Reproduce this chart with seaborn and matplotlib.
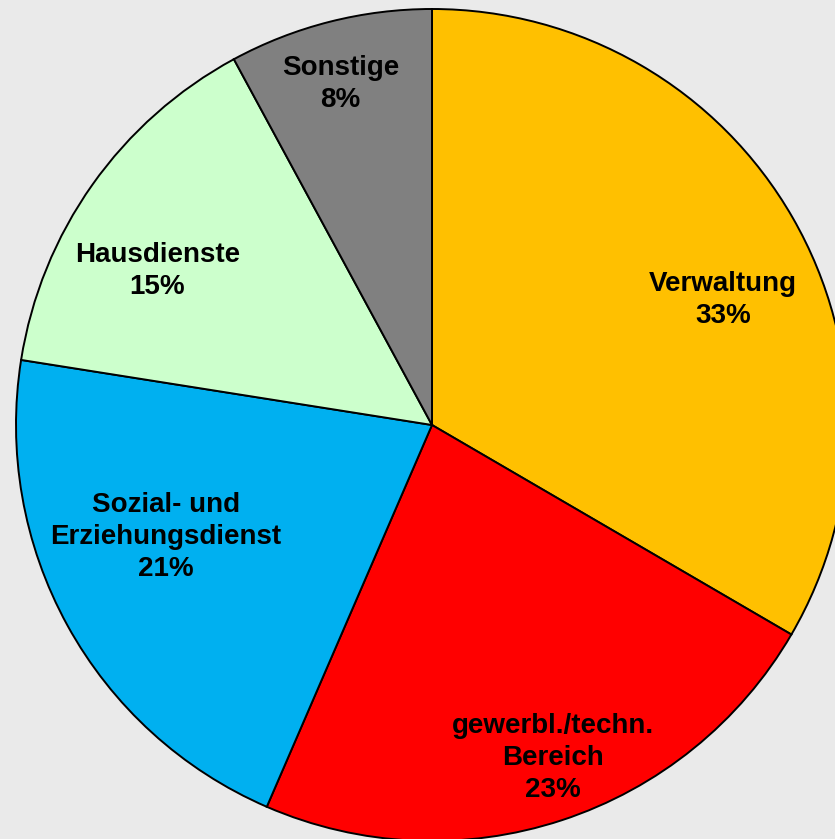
import seaborn as sns
import matplotlib.pyplot as plt

# Chart data (shares in percent)
categories = ['Verwaltung', 'gewerbl./techn.\nBereich', 'Sozial- und\nErziehungsdienst',
              'Hausdienste', 'Sonstige']
shares = [33.4, 23.1, 21.0, 14.6, 7.9]
colors = ['#FFC000', '#FF0000', '#00B0F0', '#CCFFCC', '#808080']

# label anchor points (pie radius = 1)
label_pos = [(0.70, 0.30), (0.29, -0.80), (-0.64, -0.27), (-0.66, 0.37), (-0.22, 0.82)]

sns.set_theme(style='white')
plt.rcParams['font.family'] = ['Liberation Sans', 'DejaVu Sans']

W, H = 835, 839
cx, cy, r = 432, 425, 416

fig = plt.figure(figsize=(W / 100, H / 100), dpi=100)
fig.patch.set_facecolor('#EAEAEA')
ax = fig.add_axes([0, 0, 1, 1])
ax.set_facecolor('#EAEAEA')

ax.pie(shares, colors=colors, startangle=90, counterclock=False,
       wedgeprops=dict(edgecolor='black', linewidth=1.4))

for name, val, (x, y) in zip(categories, shares, label_pos):
    ax.text(x, y, f'{name}\n{val:.0f}%', ha='center', va='center',
            fontsize=20, fontweight='bold', color='black', linespacing=1.3)

ax.set_xlim(-cx / r, (W - cx) / r)
ax.set_ylim(-(H - cy) / r, cy / r)
ax.set_aspect('auto')
ax.axis('off')

fig.savefig('out.png', dpi=100, facecolor=fig.get_facecolor())
